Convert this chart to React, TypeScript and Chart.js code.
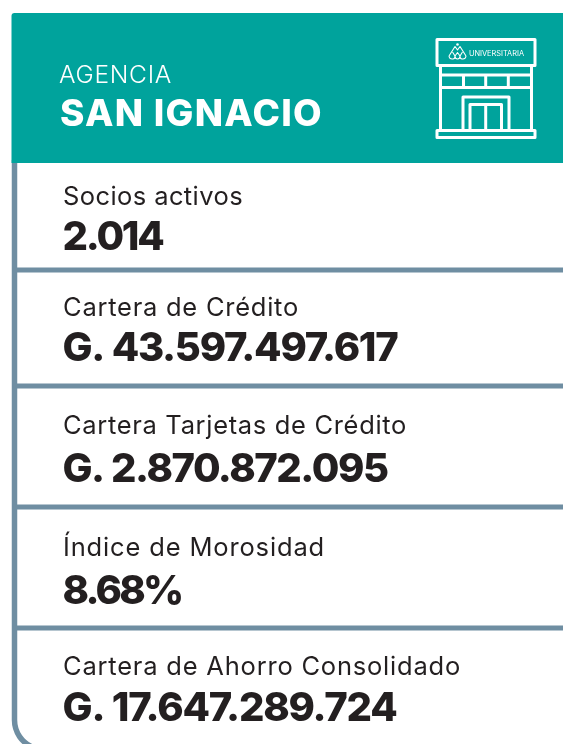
import React, { useEffect, useRef } from "react";
import { Chart, registerables } from "chart.js";

Chart.register(...registerables);

const agencyPrefix = "AGENCIA";
const agencyName = "SAN IGNACIO";
const brandName = "UNIVERSITARIA";
const rowLabels = [
  "Socios activos",
  "Cartera de Crédito",
  "Cartera Tarjetas de Crédito",
  "Índice de Morosidad",
  "Cartera de Ahorro Consolidado",
];
const rowValues = [
  "2.014",
  "G. 43.597.497.617",
  "G. 2.870.872.095",
  "8.68%",
  "G. 17.647.289.724",
];

const TEAL = "#00A39C";
const SLATE = "#6F8EA2";
const INK = "#231F20";
const FONT = "Inter";

// layout, in canvas pixels
const labelBase = [205, 316, 434, 556, 675];
const valueBase = [250, 361, 482, 604, 721];
const labelWidth = [180, 236, 344, 262, 398];
const valueWidth = [100, 335, 325, 119, 334];
const separators = [270, 386, 507, 628];

function fit(ctx: CanvasRenderingContext2D, text: string, x: number, y: number, width: number) {
  (ctx as any).letterSpacing = "0px";
  const m = ctx.measureText(text).width;
  (ctx as any).letterSpacing = `${(width - m) / Math.max(1, text.length)}px`;
  ctx.fillText(text, x, y);
  (ctx as any).letterSpacing = "0px";
}

function drawIcon(ctx: CanvasRenderingContext2D) {
  ctx.save();
  ctx.strokeStyle = "#fff";
  ctx.lineWidth = 3;
  ctx.lineJoin = "round";
  const line = (pts: number[][]) => {
    ctx.beginPath();
    pts.forEach((p, i) => (i ? ctx.lineTo(p[0], p[1]) : ctx.moveTo(p[0], p[1])));
    ctx.stroke();
  };
  ctx.strokeRect(437, 39.5, 98, 26);
  line([[440.5, 66], [440.5, 130]]);
  line([[531.5, 66], [531.5, 130]]);
  line([[440, 75], [532, 75]]);
  line([[440, 87.5], [532, 87.5]]);
  [463.5, 485.7, 508.3].forEach((x) => line([[x, 75], [x, 87.5]]));
  line([[463, 130], [463, 97], [509, 97], [509, 130]]);
  line([[470, 130], [470, 104.5], [501.5, 104.5], [501.5, 130]]);
  line([[485.7, 104.5], [485.7, 130]]);
  ctx.strokeRect(437, 130.5, 98, 7);

  // brand mark
  ctx.lineWidth = 1.1;
  line([[449, 56], [455, 46.5], [457.5, 50], [460, 46.5], [466, 56]]);
  ctx.beginPath();
  ctx.moveTo(449, 56);
  ctx.quadraticCurveTo(449.5, 59.5, 453, 59);
  ctx.quadraticCurveTo(455, 59, 455, 56);
  ctx.lineTo(452.5, 52);
  ctx.moveTo(466, 56);
  ctx.quadraticCurveTo(465.5, 59.5, 462, 59);
  ctx.quadraticCurveTo(460, 59, 460, 56);
  ctx.lineTo(462.5, 52);
  ctx.moveTo(457.5, 52.5);
  ctx.lineTo(460, 56);
  ctx.quadraticCurveTo(460, 59, 457.5, 59);
  ctx.quadraticCurveTo(455, 59, 455, 56);
  ctx.closePath();
  ctx.stroke();
  ctx.fillStyle = "#fff";
  ctx.beginPath();
  ctx.arc(457.5, 44.5, 1.3, 0, Math.PI * 2);
  ctx.fill();
  ctx.font = `400 7.4px ${FONT}`;
  ctx.textBaseline = "alphabetic";
  fit(ctx, brandName, 469, 55.5, 55);
  ctx.restore();
}

const cardPlugin = {
  id: "card",
  beforeDraw(chart: Chart) {
    const ctx = chart.ctx;
    ctx.save();
    ctx.fillStyle = "#fff";
    ctx.fillRect(0, 0, chart.width, chart.height);

    // left border with rounded foot
    ctx.strokeStyle = SLATE;
    ctx.lineWidth = 5.5;
    ctx.beginPath();
    ctx.moveTo(14.5, 160);
    ctx.lineTo(14.5, 720);
    ctx.arc(44, 720, 29.5, Math.PI, Math.PI * 0.62, true);
    ctx.stroke();

    // separators
    ctx.lineWidth = 5;
    separators.forEach((y) => {
      ctx.beginPath();
      ctx.moveTo(14, y);
      ctx.lineTo(chart.width, y);
      ctx.stroke();
    });

    // header
    ctx.fillStyle = TEAL;
    ctx.beginPath();
    ctx.roundRect(11.5, 13, chart.width, 150, [3, 0, 0, 0]);
    ctx.fill();

    ctx.fillStyle = "#fff";
    ctx.textBaseline = "alphabetic";
    ctx.font = `300 24.5px ${FONT}`;
    fit(ctx, agencyPrefix, 59, 83, 113);
    ctx.font = `800 37px ${FONT}`;
    fit(ctx, agencyName, 60, 126, 263);
    drawIcon(ctx);

    // rows
    (chart.data.labels as string[]).forEach((label, i) => {
      ctx.fillStyle = INK;
      ctx.font = `400 25.5px ${FONT}`;
      fit(ctx, label, 63, labelBase[i], labelWidth[i]);
      ctx.font = `800 40px ${FONT}`;
      fit(ctx, rowValues[i], 62.5, valueBase[i], valueWidth[i]);
    });
    ctx.restore();
  },
};

export default function App() {
  const ref = useRef<HTMLCanvasElement>(null);
  useEffect(() => {
    const chart = new Chart(ref.current!, {
      type: "bar",
      data: { labels: rowLabels, datasets: [] },
      options: {
        animation: false,
        responsive: false,
        events: [],
        layout: { padding: 0 },
        plugins: { legend: { display: false }, tooltip: { enabled: false } },
        scales: { x: { display: false }, y: { display: false } },
      },
      plugins: [cardPlugin],
    });
    return () => chart.destroy();
  }, []);
  return (
    <canvas
      ref={ref}
      width={563}
      height={744}
      style={{ position: "fixed", left: 0, top: 0, display: "block" }}
    />
  );
}
